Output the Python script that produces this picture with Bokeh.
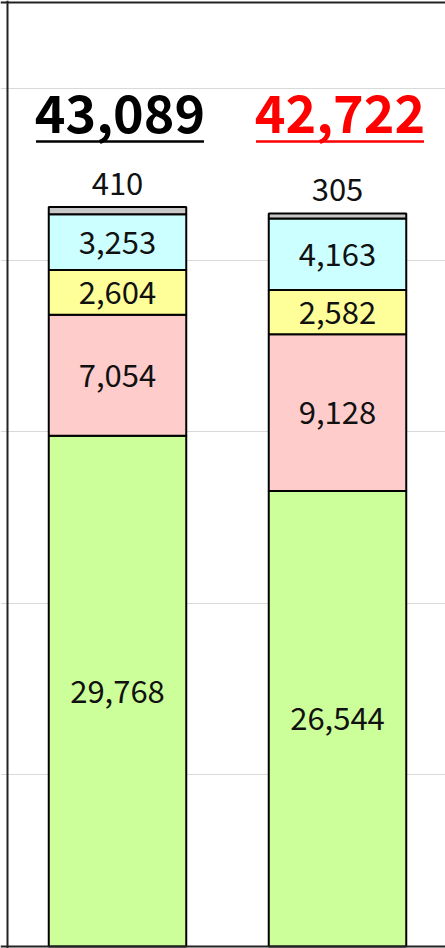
from bokeh.plotting import figure
from bokeh.models import Span, ColumnDataSource, Range1d, SingleIntervalTicker
from bokeh.embed import file_html
from bokeh.resources import INLINE
from bokeh.core.properties import value

# ---- data (bottom to top of each stacked bar) ----
series = ["s1", "s2", "s3", "s4", "s5"]
s1 = [29768, 26544]
s2 = [7054, 9128]
s3 = [2604, 2582]
s4 = [3253, 4163]
s5 = [410, 305]
total_colors = ["#000000", "#ff0000"]
colors = ["#ccff99", "#ffcccc", "#ffff99", "#ccffff", "#c8c8c8"]

# ---- layout constants (pixels) ----
W, H = 445, 948
ZERO_PX = 946          # pixel row of value 0 (from top)
PX_PER_UNIT = 858 / 50000
SPACING_PX = 220
FIRST_CENTER_PX = 117
FONT = "Noto Sans CJK JP"

ppu = PX_PER_UNIT
y_start = -(H - ZERO_PX) / ppu
y_end = ZERO_PX / ppu
x_start = -FIRST_CENTER_PX / SPACING_PX
x_end = x_start + W / SPACING_PX

def ypx(px):  # data y of a pixel row
    return (ZERO_PX - px) / ppu

def xpx(px):
    return x_start + px / SPACING_PX

n = len(s1)
xs = list(range(n))
cols = [s1, s2, s3, s4, s5]
data = {"x": xs}
for name, c in zip(series, cols):
    data[name] = c
src = ColumnDataSource(data)

p = figure(width=W, height=H, x_range=Range1d(x_start, x_end), y_range=Range1d(y_start, y_end),
           x_axis_location=None, y_axis_location=None, toolbar_location=None,
           output_backend="svg", min_border=0, outline_line_color=None,
           background_fill_color="white", border_fill_color="white")
p.xgrid.visible = False
p.ygrid.ticker = SingleIntervalTicker(interval=10000)
p.ygrid.grid_line_color = "#d9d9d9"
p.ygrid.grid_line_width = 1

p.vbar_stack(series, x="x", width=0.625, color=colors, source=src,
             line_color="#000000", line_width=2)

# segment labels (first four series)
lx, ly, lt = [], [], []
for i in range(n):
    base = 0
    for c in cols[:4]:
        lx.append(xs[i]); ly.append(base + c[i] / 2); lt.append(f"{c[i]:,}")
        base += c[i]
p.text(x=lx, y=ly, text=lt, text_align="center", text_baseline="middle",
       text_font=value(FONT), text_font_size="31px", text_color="#111111")

# small top segment labels above bars
tops = [sum(c[i] for c in cols) for i in range(n)]
p.text(x=xs, y=tops, text=[f"{v:,}" for v in s5], text_align="center",
       text_baseline="middle", y_offset=-24, text_font=value(FONT),
       text_font_size="31px", text_color="#111111")

# totals header
hy = ypx(113)
uy = ypx(141)
dx = 2.5 / SPACING_PX
half = 84 / SPACING_PX
p.text(x=[x + dx for x in xs], y=[hy] * n, text=[f"{v:,}" for v in tops],
       text_align="center", text_baseline="middle", text_font=value(FONT),
       text_font_size="52px", text_font_style="bold", text_color=total_colors)
p.segment(x0=[x + dx - half for x in xs], x1=[x + dx + half for x in xs],
          y0=[uy] * n, y1=[uy] * n, line_color=total_colors, line_width=2.5)

# frame (left, top, bottom)
p.add_layout(Span(location=xpx(7), dimension="height", line_color="#222222", line_width=2))
p.add_layout(Span(location=ypx(2), dimension="width", line_color="#222222", line_width=2))
p.add_layout(Span(location=0, dimension="width", line_color="#222222", line_width=2))

open("out.html", "w").write(file_html(p, INLINE))
